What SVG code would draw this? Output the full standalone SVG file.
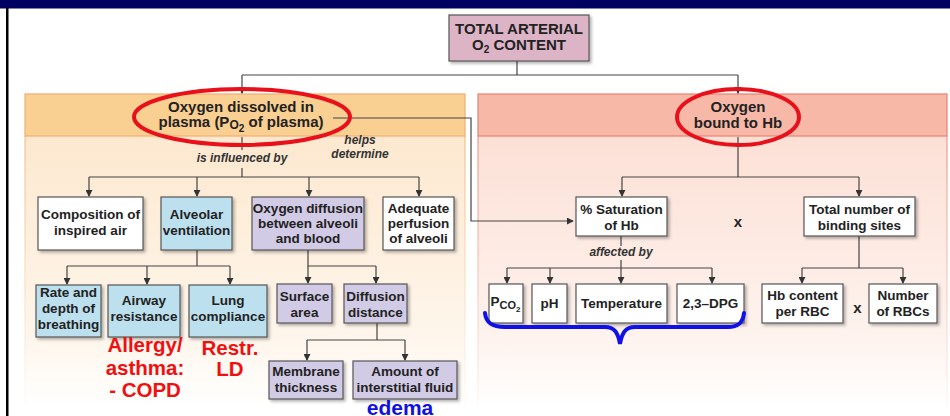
<svg xmlns="http://www.w3.org/2000/svg" width="950" height="416" viewBox="0 0 950 416">
<defs>
<linearGradient id="gL" x1="0" y1="0" x2="0" y2="1"><stop offset="0" stop-color="#fde8cf"/><stop offset="0.75" stop-color="#fef6ec"/><stop offset="1" stop-color="#ffffff"/></linearGradient>
<linearGradient id="gR" x1="0" y1="0" x2="0" y2="1"><stop offset="0" stop-color="#fce0d6"/><stop offset="0.75" stop-color="#fef3ee"/><stop offset="1" stop-color="#ffffff"/></linearGradient>
<linearGradient id="sL" x1="0" y1="0" x2="0" y2="1"><stop offset="0" stop-color="#f0b878"/><stop offset="1" stop-color="#fffaf4"/></linearGradient>
<linearGradient id="sR" x1="0" y1="0" x2="0" y2="1"><stop offset="0" stop-color="#e98a78"/><stop offset="1" stop-color="#fdf4f0"/></linearGradient>
<filter id="sh" x="-10%" y="-10%" width="130%" height="140%"><feDropShadow dx="2" dy="2" stdDeviation="1.5" flood-color="#000" flood-opacity="0.3"/></filter>
<marker id="ar" viewBox="0 0 8 8" refX="7" refY="4" markerWidth="7" markerHeight="7" markerUnits="userSpaceOnUse" orient="auto"><path d="M0,0 L8,4 L0,8 Z" fill="#333"/></marker>
</defs>
<style>
.t{font-family:"Liberation Sans",Arial,sans-serif;font-weight:bold;font-size:13.5px;fill:#222;text-anchor:middle}
.h{font-size:15px}
.i{font-style:italic;font-size:12px;fill:#333}
.box{stroke:#555;stroke-width:1.2;filter:url(#sh)}
.w{fill:#ffffff}.b{fill:#bde0ee}.v{fill:#d2cbe6}
.c{fill:none;stroke:#444;stroke-width:1.2}
.ell{fill:none;stroke:#e8101a;stroke-width:4}
.red{font-family:"Liberation Sans",Arial,sans-serif;font-weight:bold;font-size:20.5px;fill:#f01010;text-anchor:middle}
.blue{font-family:"Liberation Sans",Arial,sans-serif;font-weight:bold;font-size:21px;fill:#1010e0;text-anchor:middle}
</style>
<rect x="0" y="0" width="950" height="416" fill="#ffffff"/>
<rect x="0" y="0" width="950" height="8.5" fill="#000060"/>
<rect x="6" y="8" width="2.5" height="408" fill="#000000"/>

<!-- panels -->
<g id="panel-left">
<rect x="25" y="136" width="440" height="270" fill="url(#gL)"/>
<rect x="24.5" y="136" width="1" height="270" fill="url(#sL)"/>
<rect x="464.5" y="136" width="1" height="270" fill="url(#sL)"/>
<rect x="25" y="94" width="440" height="42" fill="#f9cf92" stroke="#eeae70" stroke-width="1.2"/>
</g>
<g id="panel-right">
<rect x="478" y="136" width="469" height="270" fill="url(#gR)"/>
<rect x="477.5" y="136" width="1" height="270" fill="url(#sR)"/>
<rect x="946.5" y="136" width="1" height="270" fill="url(#sR)"/>
<rect x="478" y="94" width="469" height="42" fill="#f8b8a8" stroke="#e88070" stroke-width="1.2"/>
</g>

<!-- connectors -->
<g id="connectors">
<path class="c" d="M517,61 V75 M242,75 H738"/>
<path class="c" d="M242,75 V93" marker-end="url(#ar)"/>
<path class="c" d="M738,75 V93" marker-end="url(#ar)"/>
<path class="c" d="M333,118 H471 V221 H573" marker-end="url(#ar)"/>
<path class="c" d="M242,137 V150 M242,168 V177 M89,177 H419"/>
<path class="c" d="M89,177 V196" marker-end="url(#ar)"/>
<path class="c" d="M197,177 V196" marker-end="url(#ar)"/>
<path class="c" d="M309,177 V196" marker-end="url(#ar)"/>
<path class="c" d="M419,177 V196" marker-end="url(#ar)"/>
<path class="c" d="M197,250 V266 M67,266 H230"/>
<path class="c" d="M67,266 V284" marker-end="url(#ar)"/>
<path class="c" d="M147,266 V284" marker-end="url(#ar)"/>
<path class="c" d="M230,266 V284" marker-end="url(#ar)"/>
<path class="c" d="M308,250 V266 H376"/>
<path class="c" d="M308,266 V283" marker-end="url(#ar)"/>
<path class="c" d="M376,266 V283" marker-end="url(#ar)"/>
<path class="c" d="M377,323 V340 M307,340 H405"/>
<path class="c" d="M307,340 V360" marker-end="url(#ar)"/>
<path class="c" d="M405,340 V360" marker-end="url(#ar)"/>
<path class="c" d="M738,137 V177 M622,177 H859"/>
<path class="c" d="M622,177 V196" marker-end="url(#ar)"/>
<path class="c" d="M859,177 V196" marker-end="url(#ar)"/>
<path class="c" d="M621,236 V246 M621,260 V268 M507,268 H712"/>
<path class="c" d="M507,268 V283" marker-end="url(#ar)"/>
<path class="c" d="M550,268 V283" marker-end="url(#ar)"/>
<path class="c" d="M621,268 V283" marker-end="url(#ar)"/>
<path class="c" d="M712,268 V283" marker-end="url(#ar)"/>
<path class="c" d="M859,236 V268 M802,268 H903"/>
<path class="c" d="M802,268 V283" marker-end="url(#ar)"/>
<path class="c" d="M903,268 V283" marker-end="url(#ar)"/>
</g>

<!-- labels on connectors -->
<text class="t i" x="360" y="144">helps</text>
<text class="t i" x="360" y="158">determine</text>
<text class="t i" x="242" y="162">is influenced by</text>
<text class="t i" x="621" y="256">affected by</text>

<g id="total">
<rect class="box" x="449" y="15" width="140" height="46" fill="#dcb4c6" stroke="#a0607c"/>
<text class="t h" x="519" y="34">TOTAL ARTERIAL</text>
<text class="t h" x="519" y="50">O<tspan font-size="10" dy="3">2</tspan><tspan dy="-3"> CONTENT</tspan></text>
</g>

<g id="dissolved">
<text class="t h" x="241" y="112">Oxygen dissolved in</text>
<text class="t h" x="241" y="127">plasma (P<tspan font-size="12" dy="2">O</tspan><tspan font-size="10" dy="3">2</tspan><tspan dy="-5"> of plasma)</tspan></text>
<ellipse class="ell" cx="242" cy="117" rx="108" ry="28"/>
</g>

<g id="bound">
<text class="t h" x="738" y="112">Oxygen</text>
<text class="t h" x="738" y="128">bound to Hb</text>
<ellipse class="ell" cx="738" cy="117" rx="61" ry="28"/>
</g>

<g id="composition">
<rect class="box w" x="38" y="197" width="105" height="53"/>
<text class="t" x="90.5" y="219">Composition of</text>
<text class="t" x="90.5" y="235">inspired air</text>
</g>
<g id="alveolar">
<rect class="box b" x="161" y="197" width="71" height="53"/>
<text class="t" x="196.5" y="219">Alveolar</text>
<text class="t" x="196.5" y="235">ventilation</text>
</g>
<g id="diffusion">
<rect class="box v" x="252" y="197" width="112" height="53"/>
<text class="t" x="308" y="213">Oxygen diffusion</text>
<text class="t" x="308" y="228">between alveoli</text>
<text class="t" x="308" y="243">and blood</text>
</g>
<g id="perfusion">
<rect class="box w" x="383" y="197" width="71" height="53"/>
<text class="t" x="418.5" y="213">Adequate</text>
<text class="t" x="418.5" y="228">perfusion</text>
<text class="t" x="418.5" y="243">of alveoli</text>
</g>
<g id="rate">
<rect class="box b" x="36" y="285" width="65" height="52"/>
<text class="t" x="68.5" y="297">Rate and</text>
<text class="t" x="68.5" y="313">depth of</text>
<text class="t" x="68.5" y="329">breathing</text>
</g>
<g id="airway">
<rect class="box b" x="108" y="285" width="72" height="52"/>
<text class="t" x="144" y="305">Airway</text>
<text class="t" x="144" y="321">resistance</text>
</g>
<g id="compliance">
<rect class="box b" x="189" y="285" width="78" height="52"/>
<text class="t" x="228" y="305">Lung</text>
<text class="t" x="228" y="321">compliance</text>
</g>
<g id="surface">
<rect class="box v" x="277" y="284" width="55" height="39"/>
<text class="t" x="304.5" y="301">Surface</text>
<text class="t" x="304.5" y="317">area</text>
</g>
<g id="distance">
<rect class="box v" x="344" y="284" width="63" height="39"/>
<text class="t" x="375.5" y="301">Diffusion</text>
<text class="t" x="375.5" y="317">distance</text>
</g>
<g id="membrane">
<rect class="box v" x="269" y="361" width="74" height="38"/>
<text class="t" x="306" y="376">Membrane</text>
<text class="t" x="306" y="392">thickness</text>
</g>
<g id="fluid">
<rect class="box v" x="353" y="361" width="104" height="38"/>
<text class="t" x="405" y="376">Amount of</text>
<text class="t" x="405" y="392">interstitial fluid</text>
</g>

<g id="saturation">
<rect class="box w" x="576" y="197" width="91" height="39"/>
<text class="t" x="621.5" y="214">% Saturation</text>
<text class="t" x="621.5" y="230">of Hb</text>
</g>
<text class="t h" x="738" y="227">x</text>
<g id="binding">
<rect class="box w" x="804" y="197" width="111" height="39"/>
<text class="t" x="859.5" y="214">Total number of</text>
<text class="t" x="859.5" y="230">binding sites</text>
</g>
<g id="pco2">
<rect class="box w" x="489" y="284" width="34" height="39"/>
<text class="t" x="505.5" y="306" font-size="14">P<tspan font-size="11" dy="3">CO</tspan><tspan font-size="8" dy="3">2</tspan></text>
</g>
<g id="ph">
<rect class="box w" x="532" y="284" width="35" height="39"/>
<text class="t" x="549.5" y="308">pH</text>
</g>
<g id="temperature">
<rect class="box w" x="576" y="284" width="91" height="39"/>
<text class="t" x="621.5" y="308">Temperature</text>
</g>
<g id="dpg">
<rect class="box w" x="677" y="284" width="67" height="39"/>
<text class="t" x="710.5" y="308">2,3–DPG</text>
</g>
<g id="hbcontent">
<rect class="box w" x="762" y="284" width="81" height="39"/>
<text class="t" x="802.5" y="300">Hb content</text>
<text class="t" x="802.5" y="316">per RBC</text>
</g>
<text class="t h" x="857.5" y="313">x</text>
<g id="rbcs">
<rect class="box w" x="869" y="284" width="68" height="39"/>
<text class="t" x="903" y="300">Number</text>
<text class="t" x="903" y="316">of RBCs</text>
</g>

<!-- annotations -->
<text class="red" x="145" y="352">Allergy/</text>
<text class="red" x="145" y="375">asthma:</text>
<text class="red" x="145" y="397">- COPD</text>
<text class="red" x="230" y="355">Restr.</text>
<text class="red" x="230" y="376">LD</text>
<text class="blue" x="400" y="415">edema</text>
<path d="M485,313 C486,323 492,327 505,327 L605,327 C614,327 618,332 620,344 C622,332 626,327 635,327 L728,327 C739,327 743,322 744,313" fill="none" stroke="#1010e8" stroke-width="4" stroke-linecap="round"/>
</svg>
